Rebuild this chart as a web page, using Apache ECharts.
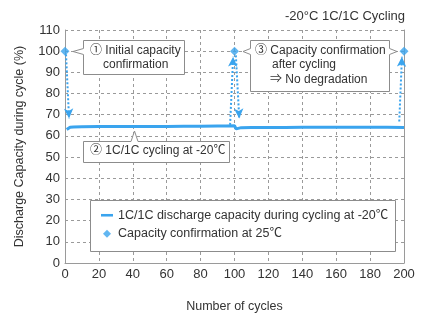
<!DOCTYPE html>
<html>
<head>
<meta charset="utf-8">
<script src="https://cdn.jsdelivr.net/npm/echarts@6/dist/echarts.min.js"></script>
<style>
  html, body { margin: 0; padding: 0; background: #fff; }
  #chart { width: 427px; height: 322px; }
</style>
</head>
<body>
<div id="chart"></div>
<script>
// Discharge capacity at -20°C, 1C/1C cycling (percent of initial capacity)
const cycles = [1, 2, 3, 5, 10, 20, 30, 40, 50, 60, 70, 80, 90, 95, 100,
                101, 102, 104, 110, 120, 130, 140, 150, 160, 170, 180, 190, 200];
const capacity = [63.0, 63.8, 64.1, 64.2, 64.3, 64.4, 64.4, 64.5, 64.5, 64.5, 64.6, 64.6, 64.7, 64.7, 64.8,
                  63.3, 63.8, 63.9, 64.0, 64.0, 64.0, 64.1, 64.1, 64.1, 64.1, 64.1, 64.1, 64.0];

// Capacity confirmation at 25°C
const confirmCycles = [0, 100, 200];
const confirmValues = [100, 100, 100];

// Dotted arrows between confirmation points and cycling data: [from, to]
const arrowFrom = [[0.6, 98.5], [97.4, 65.2], [100.8, 98.0], [197.2, 66.8]];
const arrowTo   = [[2.4, 68.2], [99.2, 97.4], [102.8, 68.2], [198.8, 97.4]];

const xTicks = { min: 0, max: 200, interval: 20 };
const yTicks = { min: 0, max: 110, interval: 10 };

const lineName = '1C/1C discharge capacity during cycling at -20℃';
const dotName = 'Capacity confirmation at 25℃';

const FONT = '"Liberation Sans", Arial, "Noto Sans CJK JP", sans-serif';
const TXT = '#333';
const BLUE = '#3aa4ee';
const GRID = '#9a9a9a';

const chart = echarts.init(document.getElementById('chart'), null, { renderer: 'canvas' });

const lineData = cycles.map((c, i) => [c, capacity[i]]);
const dotData = confirmCycles.map((c, i) => [c, confirmValues[i]]);
const arrows = arrowFrom.map((f, i) => [{ coord: f }, { coord: arrowTo[i] }]);

// callout box with pointer; points given in pixels
function callout(points) {
  return {
    type: 'polygon', z: 5,
    shape: { points: points },
    style: { fill: '#fff', stroke: '#8c8c8c', lineWidth: 1 }
  };
}
function label(x, y, text) {
  return {
    type: 'text', z: 6, left: x, top: y,
    style: { text: text, font: '12px ' + FONT, fill: TXT, textAlign: 'left' }
  };
}

chart.setOption({
  animation: false,
  textStyle: { fontFamily: FONT },
  title: {
    text: '-20°C 1C/1C Cycling',
    right: 17, top: 5,
    textStyle: { fontSize: 13, fontWeight: 'normal', color: TXT, fontFamily: FONT }
  },
  grid: { left: 65, right: 23, top: 30, bottom: 59 },
  xAxis: {
    type: 'value', min: xTicks.min, max: xTicks.max, interval: xTicks.interval,
    name: 'Number of cycles', nameLocation: 'middle', nameGap: 37,
    nameTextStyle: { fontSize: 12.5, color: TXT },
    axisLine: { lineStyle: { color: GRID, width: 1 } },
    axisTick: { show: false },
    axisLabel: { fontSize: 13, color: TXT, margin: 5 },
    splitLine: { show: true, lineStyle: { color: GRID, type: [3, 3], width: 1 } }
  },
  yAxis: [{
    type: 'value', min: yTicks.min, max: yTicks.max, interval: yTicks.interval,
    name: 'Discharge Capacity during cycle (%)', nameLocation: 'middle', nameGap: 39,
    nameTextStyle: { fontSize: 12.5, color: TXT },
    axisLine: { show: true, lineStyle: { color: GRID, width: 1 } },
    axisTick: { show: false },
    axisLabel: { fontSize: 13, color: TXT, margin: 5 },
    splitLine: { show: true, lineStyle: { color: GRID, type: [3, 3], width: 1 } }
  }, {
    type: 'value', min: yTicks.min, max: yTicks.max, interval: yTicks.interval,
    position: 'right',
    axisLine: { show: true, lineStyle: { color: GRID, width: 1 } },
    axisTick: { show: false }, axisLabel: { show: false }, splitLine: { show: false }
  }],
  legend: {
    orient: 'vertical', left: 101, top: 209, z: 10, padding: 0,
    itemWidth: 12, itemHeight: 8, itemGap: 6,
    symbolKeepAspect: true,
    textStyle: { fontSize: 12.5, color: TXT, fontFamily: FONT },
    data: [
      { name: lineName, icon: 'path://M0,0h14v3h-14z' },
      { name: dotName, icon: 'path://M4,0L8,4L4,8L0,4z' }
    ]
  },
  graphic: [
    { type: 'rect', z: 3, shape: { x: 90.5, y: 200.5, width: 305, height: 51 },
      style: { fill: '#fff', stroke: '#8c8c8c', lineWidth: 1 } },
    callout([[83.5, 40.5], [184.5, 40.5], [184.5, 74.5], [83.5, 74.5], [83.5, 54.5], [73, 51.5], [83.5, 48.5]]),
    label(90, 45, '① Initial capacity'),
    label(103, 59, 'confirmation'),
    callout([[83.5, 141.5], [131, 141.5], [134.5, 131], [138, 141.5], [229.5, 141.5], [229.5, 162.5], [83.5, 162.5]]),
    label(90, 145, '② 1C/1C cycling at -20℃'),
    callout([[250.5, 40.5], [389.5, 40.5], [389.5, 48.5], [397, 51.5], [389.5, 54.5], [389.5, 91.5], [250.5, 91.5], [250.5, 54.5], [243, 51.5], [250.5, 48.5]]),
    label(255, 45, '③ Capacity confirmation'),
    label(272, 59, 'after cycling'),
    label(270, 74, '⇒ No degradation')
  ],
  series: [
    {
      name: lineName, type: 'line', data: lineData, z: 2,
      showSymbol: false, symbol: 'none',
      lineStyle: { color: BLUE, width: 3 },
      itemStyle: { color: BLUE }
    },
    {
      name: dotName, type: 'scatter', data: dotData, z: 4,
      symbol: 'diamond', symbolSize: 9,
      itemStyle: { color: BLUE },
      markLine: {
        silent: true, symbol: ['none', 'arrow'], symbolSize: [7, 10],
        label: { show: false },
        lineStyle: { color: BLUE, type: [2, 2], width: 2 },
        data: arrows
      }
    }
  ]
});
</script>
</body>
</html>
